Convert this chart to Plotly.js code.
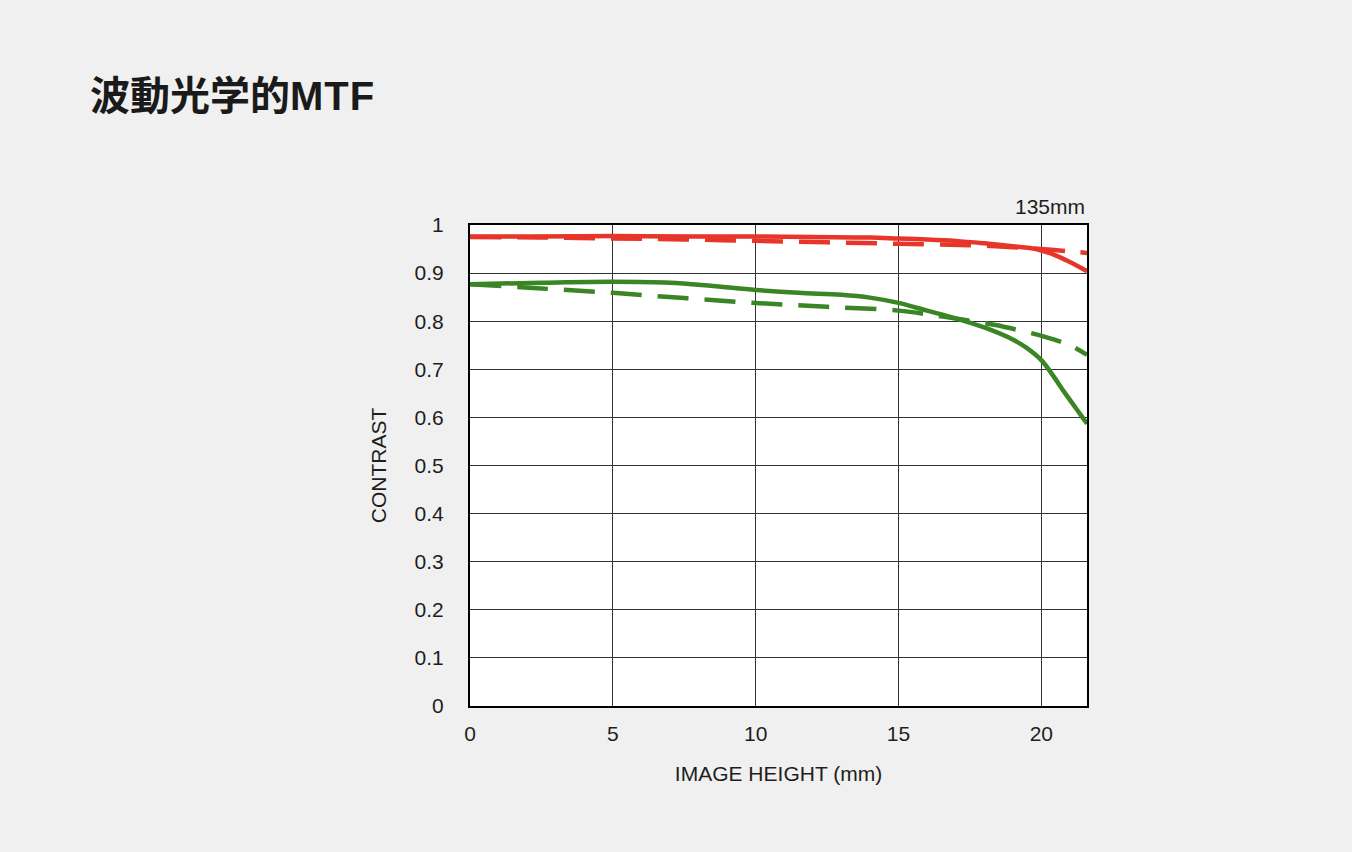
<!DOCTYPE html>
<html>
<head>
<meta charset="utf-8">
<script src="https://cdn.plot.ly/plotly-3.0.1.min.js"></script>
<style>
html,body{margin:0;padding:0;background:#f0f0f0;}
#chart{width:1352px;height:852px;}
</style>
</head>
<body>
<div id="chart"></div>
<script>
// Image height (mm)
const redSolidX   = [0, 2, 5, 8, 10, 12, 14, 15, 16, 17, 18, 19, 19.6, 20, 20.5, 21, 21.6];
const redSolidY   = [0.976, 0.976, 0.977, 0.976, 0.976, 0.975, 0.974, 0.972, 0.970, 0.967, 0.962, 0.956, 0.952, 0.947, 0.937, 0.923, 0.904];
const redDashX    = [0, 2.5, 5, 7.5, 10, 12.5, 15, 17.5, 19, 20, 21, 21.6];
const redDashY    = [0.975, 0.974, 0.972, 0.970, 0.967, 0.964, 0.961, 0.958, 0.954, 0.950, 0.945, 0.942];
const greenSolidX = [0, 2.5, 5, 7, 8.5, 10, 11.5, 13, 14, 15, 16, 17, 18, 19, 19.5, 20, 20.4, 20.8, 21.2, 21.6];
const greenSolidY = [0.877, 0.880, 0.882, 0.880, 0.873, 0.865, 0.859, 0.855, 0.849, 0.838, 0.822, 0.806, 0.787, 0.762, 0.744, 0.719, 0.688, 0.653, 0.620, 0.587];
const greenDashX  = [0, 2.5, 5, 7.5, 10, 12.5, 15, 16.5, 17.5, 18.4, 19.3, 20.1, 21, 21.6];
const greenDashY  = [0.877, 0.868, 0.859, 0.848, 0.838, 0.830, 0.822, 0.810, 0.801, 0.792, 0.780, 0.768, 0.750, 0.730];
const xTicks = [0, 5, 10, 15, 20];
const yTicks = [0, 0.1, 0.2, 0.3, 0.4, 0.5, 0.6, 0.7, 0.8, 0.9, 1];
const yTickText = ['0', '0.1', '0.2', '0.3', '0.4', '0.5', '0.6', '0.7', '0.8', '0.9', '1'];

const RED = '#e8352a';
const GREEN = '#3a8524';
const dash = '31px,16px';

const traces = [
  {x: greenDashX, y: greenDashY, mode: 'lines', line: {color: GREEN, width: 4.5, dash: dash, shape: 'spline', smoothing: 1}},
  {x: greenSolidX, y: greenSolidY, mode: 'lines', line: {color: GREEN, width: 4.5, shape: 'spline', smoothing: 1}},
  {x: redDashX, y: redDashY, mode: 'lines', line: {color: RED, width: 4.5, dash: dash, shape: 'spline', smoothing: 1}},
  {x: redSolidX, y: redSolidY, mode: 'lines', line: {color: RED, width: 4.5, shape: 'spline', smoothing: 1}}
];

const FONT = '"Liberation Sans", Arial, sans-serif';
const tickFont = {family: FONT, size: 21, color: '#1e1e1e'};

const layout = {
  width: 1352, height: 852,
  paper_bgcolor: '#f0f0f0',
  plot_bgcolor: '#ffffff',
  showlegend: false,
  margin: {l: 470, r: 265, t: 225, b: 146, pad: 0},
  title: {
    text: '<b>波動光学的<span style="font-family:\'Liberation Sans\',Arial,sans-serif;letter-spacing:1px">MTF</span></b>',
    font: {family: '"Noto Sans CJK JP", sans-serif', size: 40, color: '#1a1a1a'},
    xref: 'container', yref: 'container',
    x: 90/1352, xanchor: 'left',
    y: 1 - 96/852, yanchor: 'middle'
  },
  xaxis: {
    range: [0, 21.6],
    tickmode: 'array', tickvals: xTicks,
    ticks: '', ticklabelstandoff: 8,
    showgrid: true, gridcolor: '#333333', gridwidth: 1,
    zeroline: false,
    showline: true, mirror: true, linecolor: '#000000', linewidth: 2,
    tickfont: tickFont,
    title: {text: 'IMAGE HEIGHT (mm)', font: tickFont, standoff: 22},
    fixedrange: true
  },
  yaxis: {
    range: [0, 1],
    tickmode: 'array', tickvals: yTicks, ticktext: yTickText,
    ticks: '', ticklabelstandoff: 20,
    showgrid: true, gridcolor: '#333333', gridwidth: 1,
    zeroline: false,
    showline: true, mirror: true, linecolor: '#000000', linewidth: 2,
    tickfont: tickFont,
    title: {text: 'CONTRAST', font: tickFont, standoff: 22},
    fixedrange: true
  },
  annotations: [{
    text: '135mm', xref: 'paper', yref: 'paper',
    x: 1, y: 1, xanchor: 'right', yanchor: 'bottom', yshift: 5,
    showarrow: false, font: {family: FONT, size: 21, color: '#1e1e1e'}
  }]
};

Plotly.newPlot('chart', traces, layout, {displayModeBar: false, staticPlot: true});
</script>
</body>
</html>
